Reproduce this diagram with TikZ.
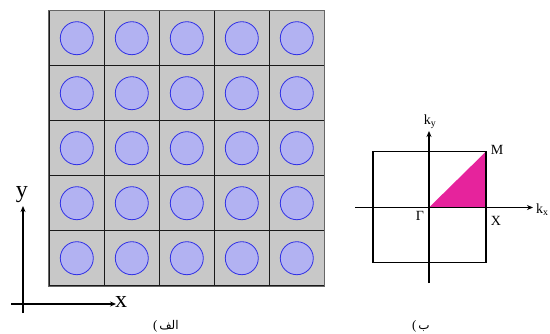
\documentclass[tikz,border=0pt]{standalone}
\usepackage{fontspec}
\setmainfont{Liberation Serif}
\newfontfamily\arabicfont[Script=Arabic]{DejaVu Sans}
\TeXXeTstate=1
\usetikzlibrary{arrows.meta}
\definecolor{cellgray}{HTML}{C8C8C8}
\definecolor{diskfill}{HTML}{B2B2F2}
\definecolor{diskline}{HTML}{3030E6}
\definecolor{ibz}{HTML}{E6239C}
\tikzset{
  cell/.style={rectangle, minimum size=55pt, inner sep=0pt, fill=cellgray, draw=black!90, line width=0.8pt},
  disk/.style={circle, minimum size=33pt, inner sep=0pt, fill=diskfill, draw=diskline, line width=0.8pt},
  axis/.style={line width=1.6pt, -{Stealth[length=6pt,width=5pt]}},
  kaxis/.style={line width=1.4pt, -{Stealth[length=6pt,width=5pt]}},
  bigl/.style={inner sep=0pt, font=\fontsize{24}{24}\selectfont},
  lbl/.style={inner sep=0pt, font=\fontsize{14}{14}\selectfont},
  figcap/.style={inner sep=0pt, font=\arabicfont\fontsize{12}{12}\selectfont},
  paren/.style={inner sep=0pt, font=\fontsize{13}{13}\selectfont}
}
\begin{document}
\begin{tikzpicture}[x=1pt,y=-1pt]
\useasboundingbox (0,0) rectangle (550,333);

% photonic crystal: 5x5 lattice of rods
\foreach \i in {0,...,4}{
  \foreach \j in {0,...,4}{
    \node[cell] (c\i\j) at ({76.8+55*\i},{38.2+55*\j}) {};
    \node[disk] (r\i\j) at (c\i\j) {};
  }
}
\draw[draw=black!60, line width=1pt] (c00.north west) rectangle (c44.south east);

% real-space axes
\coordinate (ybot) at (23,313);
\coordinate (ytop) at (23,206);
\coordinate (xleft) at (11,304);
\coordinate (xright) at (116,304);
\draw[axis] (ybot) -- (ytop);
\draw[axis] (xleft) -- (xright);
\node[bigl] (ylab) at (22,195) {y};
\node[bigl] (xlab) at (121,302) {x};
\node[figcap, anchor=base] (capa) at (169,329) {الف};
\node[paren, anchor=base east] (capap) at ([xshift=-1.5pt]capa.base west) {(};

% first Brillouin zone
\coordinate (G) at (429,207.5);
\coordinate (X) at (486,207.5);
\coordinate (M) at (486,151.5);
\fill[ibz] (G) -- (X) -- (M) -- cycle;
\draw[line width=1.3pt] (373,151.5) rectangle (486,262.5);
\coordinate (kyb) at (429,283);
\coordinate (kyt) at (429,131);
\coordinate (kxl) at (355,207.5);
\coordinate (kxr) at (533,207.5);
\draw[kaxis] (kyb) -- (kyt);
\draw[kaxis] (kxl) -- (kxr);
\node[lbl, anchor=base] (kylab) at (430,124) {k\textsubscript{y}};
\node[lbl, anchor=base west] (kxlab) at (536,213) {k\textsubscript{x}};
\node[lbl] (Mlab) at (497,150) {M};
\node[lbl] (Xlab) at (496,221) {X};
\node[lbl] (Glab) at (420,216) {Γ};
\node[figcap, anchor=base] (capb) at (424,329) {ب};
\node[paren, anchor=base east] (capbp) at ([xshift=-1.5pt]capb.base west) {(};
\end{tikzpicture}
\end{document}
